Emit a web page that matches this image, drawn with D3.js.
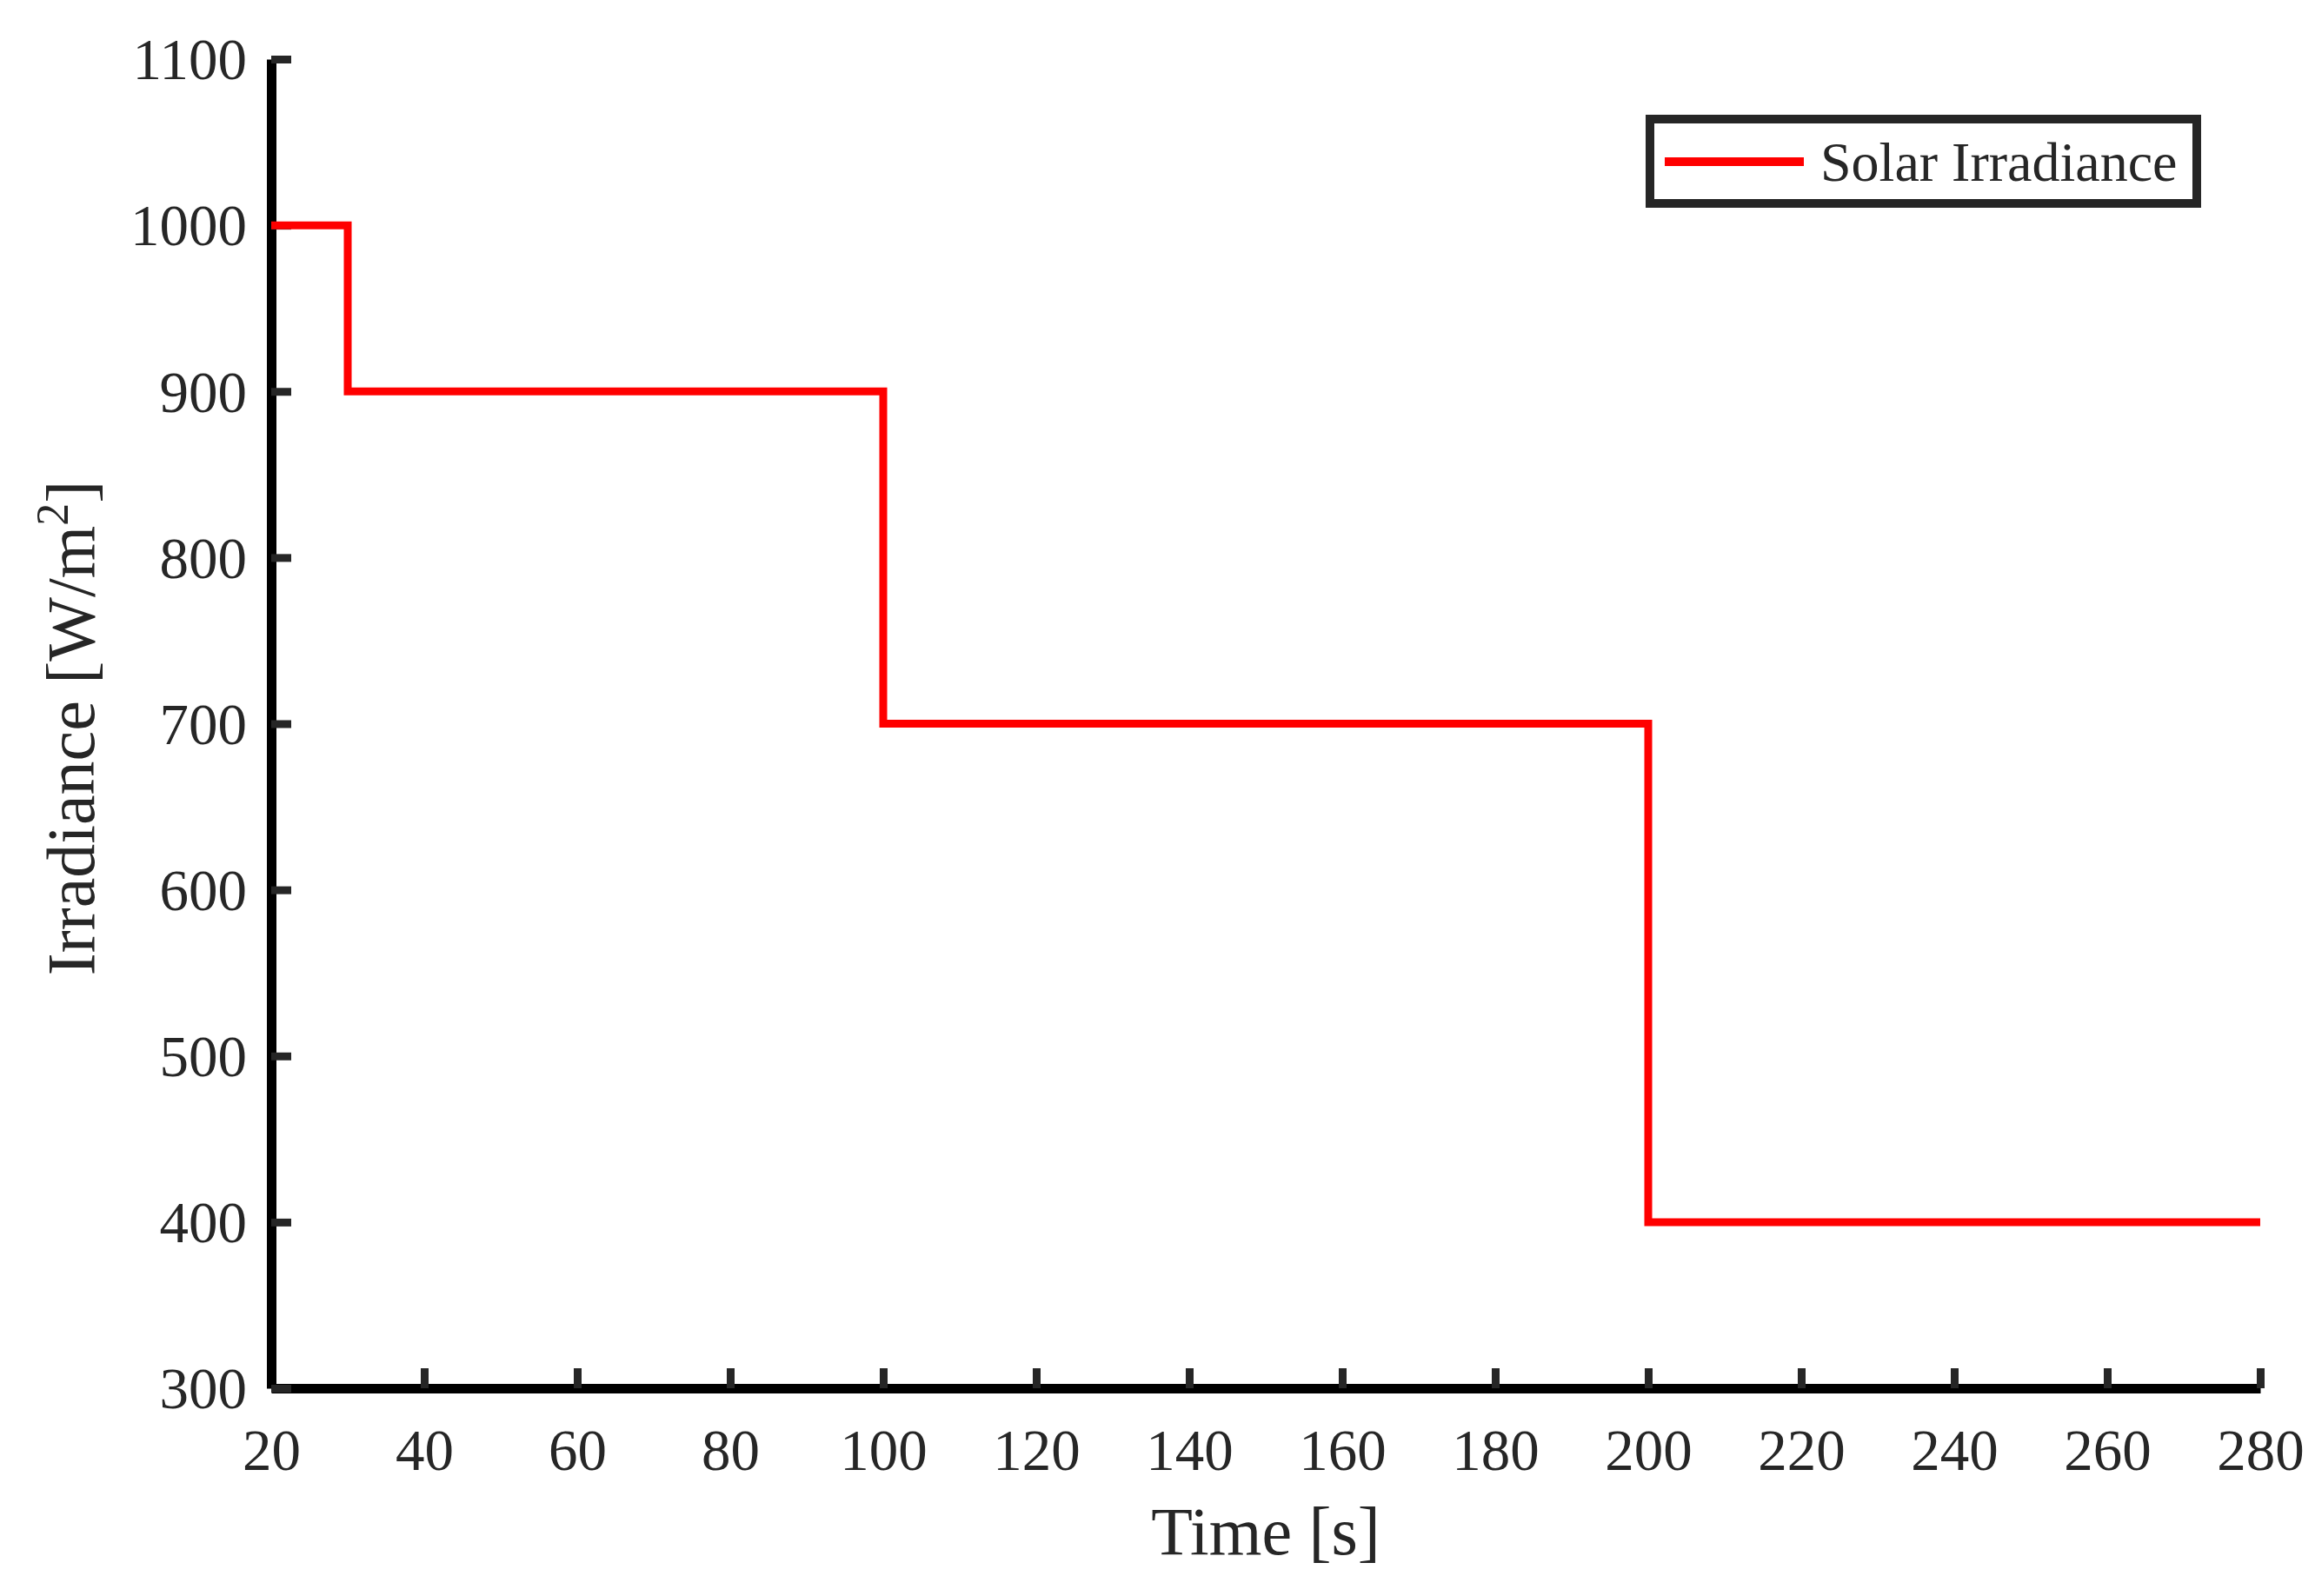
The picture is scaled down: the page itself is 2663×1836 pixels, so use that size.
<!DOCTYPE html>
<html><head><meta charset="utf-8">
<script src="https://cdn.jsdelivr.net/npm/d3@7"></script>
<style>body{margin:0;background:#fff}text{font-family:"Liberation Serif","Times New Roman",serif;fill:#262626}</style>
</head><body>
<svg id="c" width="2663" height="1836"></svg>
<script>
const times = [20, 30, 100, 200, 280];
const irradiance = [1000, 900, 700, 400, 400];
const xTicks = [20,40,60,80,100,120,140,160,180,200,220,240,260,280];
const yTicks = [300,400,500,600,700,800,900,1000,1100];
const seriesName = "Solar Irradiance";

const svg = d3.select("#c");
const L=312, R=2600, T=68, B=1597;
const x = d3.scaleLinear().domain([20,280]).range([L,R]);
const y = d3.scaleLinear().domain([300,1100]).range([B,T]);
const data = times.map((t,i)=>({t, v: irradiance[i]}));

const xa = svg.append("g").attr("transform",`translate(0,${B})`)
  .call(d3.axisBottom(x).tickValues(xTicks).tickFormat(d3.format("d")).tickSizeInner(-23).tickSizeOuter(0).tickPadding(60));
const ya = svg.append("g").attr("transform",`translate(${L},0)`)
  .call(d3.axisLeft(y).tickValues(yTicks).tickFormat(d3.format("d")).tickSizeInner(-23).tickSizeOuter(0).tickPadding(28));
[xa,ya].forEach(a=>{
  a.select(".domain").attr("stroke","#000").attr("stroke-width",11);
  a.selectAll(".tick line").attr("stroke","#262626").attr("stroke-width",9);
  a.selectAll(".tick text").style("font-size","67px").attr("fill","#262626");
});
xa.selectAll(".tick text").attr("dy","0.71em").attr("y",46);
ya.selectAll(".tick text").attr("dy","0.34em");

const line = d3.line().x(d=>x(d.t)).y(d=>y(d.v)).curve(d3.curveStepAfter);
svg.append("path").datum(data).attr("d",line).attr("fill","none")
  .attr("stroke","#ff0000").attr("stroke-width",9);

svg.append("text").attr("x",(L+R)/2).attr("y",1788).attr("text-anchor","middle")
  .style("font-size","78px").text("Time [s]");
const yl = svg.append("text").attr("transform",`translate(108,${(T+B)/2+5}) rotate(-90)`)
  .attr("text-anchor","middle").style("font-size","78px");
yl.append("tspan").text("Irradiance [W/m");
yl.append("tspan").attr("dy",-30).style("font-size","52px").text("2");
yl.append("tspan").attr("dy",30).text("]");

const lg = svg.append("g");
lg.append("rect").attr("x",1898).attr("y",137).attr("width",2527-1898).attr("height",234-137)
  .attr("fill","#fff").attr("stroke","#262626").attr("stroke-width",10);
lg.append("line").attr("x1",1915).attr("x2",2075).attr("y1",186).attr("y2",186)
  .attr("stroke","#ff0000").attr("stroke-width",10);
lg.append("text").attr("x",2094).attr("y",186).attr("dy","0.34em").style("font-size","64px")
  .attr("fill","#000").text(seriesName);
</script></body></html>
